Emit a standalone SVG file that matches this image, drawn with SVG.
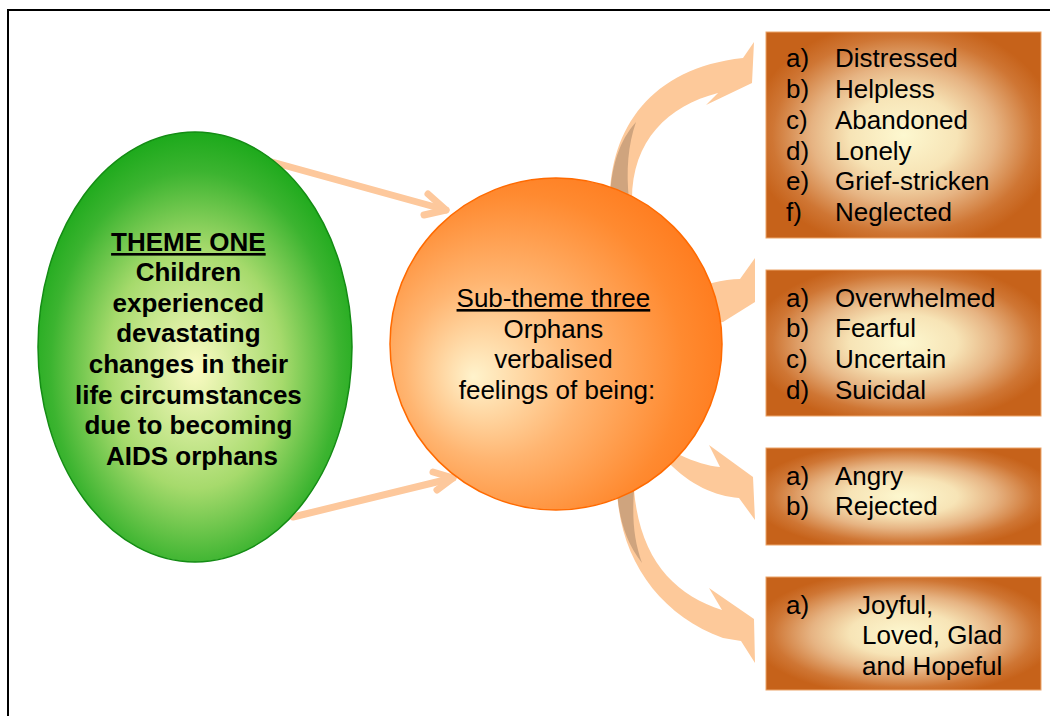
<svg xmlns="http://www.w3.org/2000/svg" width="1050" height="716" viewBox="0 0 1050 716">
  <defs>
    <radialGradient id="gGreen" cx="0.5" cy="0.55" r="0.56">
      <stop offset="0" stop-color="#fbfbc4"/>
      <stop offset="0.5" stop-color="#a6da6c"/>
      <stop offset="0.82" stop-color="#3cb430"/>
      <stop offset="1" stop-color="#19a819"/>
    </radialGradient>
    <radialGradient id="gOrange" cx="0.4" cy="0.55" fx="0.25" fy="0.6" r="0.64">
      <stop offset="0" stop-color="#fff3cc"/>
      <stop offset="0.42" stop-color="#ffb571"/>
      <stop offset="0.8" stop-color="#ff8a30"/>
      <stop offset="1" stop-color="#ff7a1c"/>
    </radialGradient>
    <radialGradient id="gBox" cx="0.5" cy="0.5" r="0.56">
      <stop offset="0" stop-color="#fdf8d0"/>
      <stop offset="0.35" stop-color="#f7e4b6"/>
      <stop offset="0.6" stop-color="#e6b382"/>
      <stop offset="0.85" stop-color="#cf7634"/>
      <stop offset="1" stop-color="#c6621a"/>
    </radialGradient>
    <style>
      .box { fill: url(#gBox); stroke: #eca468; stroke-width: 1; }
      .item { font-family: "Liberation Sans", Arial, sans-serif; font-size: 26px; fill: #000; }
      .theme { font-family: "Liberation Sans", Arial, sans-serif; font-size: 26px; font-weight: bold; fill: #000; text-anchor: middle; }
      .sub { font-family: "Liberation Sans", Arial, sans-serif; font-size: 26px; fill: #000; text-anchor: middle; }
      .u { text-decoration: underline; }
      .link { fill: none; stroke: #fdc89c; stroke-width: 7; stroke-linecap: round; stroke-linejoin: round; }
      .bend { fill: #fdc99a; }
      .shade { fill: #cfa47e; }
    </style>
  </defs>

  <!-- outer frame -->
  <rect x="8" y="10" width="1100" height="800" fill="#fff" stroke="#000" stroke-width="2"/>

  <!-- connectors -->
  <g id="connectors">
    <!-- straight links from the theme to the sub-theme -->
    <line class="link" x1="272" y1="162" x2="446" y2="210"/>
    <polyline class="link" points="428,194 446,210 424,215"/>
    <line class="link" x1="293" y1="517" x2="453" y2="478"/>
    <polyline class="link" points="433,472 453,478 437,490"/>

    <!-- curved block arrows to the feeling lists -->
    <path class="bend" d="M610,200 C610,130 650,68 743,58 L754,42 L752,83 L706,105 L718,93 C668,106 632,140 632,200 Z"/>
    <path class="shade" d="M610,200 C611,165 620,140 636,122 C628,145 626,170 629,200 Z"/>

    <path class="bend" d="M700,287 L712,283 Q728,279 740,279 L755,258 L755,302 L723,322 L700,325 Z"/>

    <path class="bend" d="M660,450 L680,455 C695,462 708,466 720,467 L709,445 L753,477 L755,520 L739,498 C715,496 690,485 668,462 Z"/>

    <path class="bend" d="M617,490 C620,560 660,615 723,638 L741,641 L755,663 L754,619 L709,588 L722,610 C675,595 640,560 634,490 Z"/>
    <path class="shade" d="M617,490 C619,520 626,542 642,563 C634,540 632,520 634,490 Z"/>
  </g>

  <!-- theme node -->
  <g id="theme-one">
    <ellipse cx="195" cy="347" rx="157" ry="215" fill="url(#gGreen)" stroke="#148c14" stroke-width="1.5"/>
    <text class="theme">
      <tspan class="u" x="192" y="251">THEME ONE</tspan>
      <tspan x="192" y="281">Children</tspan>
      <tspan x="192" y="312">experienced</tspan>
      <tspan x="192" y="342">devastating</tspan>
      <tspan x="192" y="373">changes in their</tspan>
      <tspan x="192" y="404">life circumstances</tspan>
      <tspan x="192" y="434">due to becoming</tspan>
      <tspan x="192" y="465">AIDS orphans</tspan>
    </text>
  </g>

  <!-- sub-theme node -->
  <g id="sub-theme-three">
    <circle cx="556" cy="344" r="166" fill="url(#gOrange)" stroke="#ff6a00" stroke-width="1.5"/>
    <text class="sub">
      <tspan class="u" x="557" y="307">Sub-theme three</tspan>
      <tspan x="557" y="338">Orphans</tspan>
      <tspan x="557" y="368">verbalised</tspan>
      <tspan x="557" y="399">feelings of being:</tspan>
    </text>
  </g>

  <!-- feeling lists -->
  <g id="list-distress">
    <rect class="box" x="766" y="32" width="275" height="206"/>
    <text class="item">
      <tspan x="786" y="67">a)</tspan><tspan x="835" y="67">Distressed</tspan>
      <tspan x="786" y="98">b)</tspan><tspan x="835" y="98">Helpless</tspan>
      <tspan x="786" y="129">c)</tspan><tspan x="835" y="129">Abandoned</tspan>
      <tspan x="786" y="160">d)</tspan><tspan x="835" y="160">Lonely</tspan>
      <tspan x="786" y="190">e)</tspan><tspan x="835" y="190">Grief-stricken</tspan>
      <tspan x="786" y="221">f)</tspan><tspan x="835" y="221">Neglected</tspan>
    </text>
  </g>

  <g id="list-fear">
    <rect class="box" x="766" y="270" width="275" height="146"/>
    <text class="item">
      <tspan x="786" y="307">a)</tspan><tspan x="835" y="307">Overwhelmed</tspan>
      <tspan x="786" y="337">b)</tspan><tspan x="835" y="337">Fearful</tspan>
      <tspan x="786" y="368">c)</tspan><tspan x="835" y="368">Uncertain</tspan>
      <tspan x="786" y="399">d)</tspan><tspan x="835" y="399">Suicidal</tspan>
    </text>
  </g>

  <g id="list-anger">
    <rect class="box" x="766" y="448" width="275" height="97"/>
    <text class="item">
      <tspan x="786" y="485">a)</tspan><tspan x="835" y="485">Angry</tspan>
      <tspan x="786" y="515">b)</tspan><tspan x="835" y="515">Rejected</tspan>
    </text>
  </g>

  <g id="list-joy">
    <rect class="box" x="766" y="577" width="275" height="113"/>
    <text class="item">
      <tspan x="786" y="614">a)</tspan><tspan x="858" y="614">Joyful,</tspan>
      <tspan x="862" y="644">Loved, Glad</tspan>
      <tspan x="862" y="675">and Hopeful</tspan>
    </text>
  </g>
</svg>
